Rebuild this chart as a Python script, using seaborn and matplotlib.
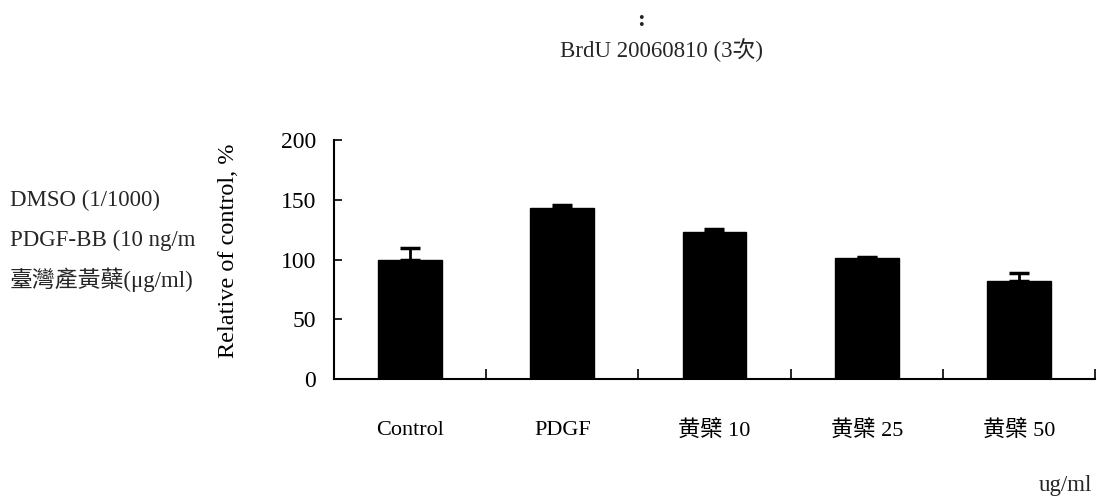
import matplotlib
matplotlib.use("Agg")
import matplotlib.pyplot as plt
import seaborn as sns
import numpy as np
import pandas as pd

# Treatment groups and measured BrdU incorporation (relative to control)
groups = ["Control", "PDGF", "黄檗 10", "黄檗 25", "黄檗 50"]
relative = [100, 143, 123, 101, 82]
sem = [10, 3, 2.5, 1.5, 7]
y_ticks = [0, 50, 100, 150, 200]

treatment_lines = ["DMSO (1/1000)", "PDGF-BB (10 ng/m", "臺灣產黃蘗(μg/ml)"]
title_text = "BrdU 20060810 (3次)"

sns.set_theme(style="white")
fam = ["Liberation Serif", "Noto Sans CJK TC", "DejaVu Sans"]
plt.rcParams["font.family"] = fam

fig = plt.figure(figsize=(10.97, 4.97), dpi=100)
ax = fig.add_axes([334 / 1097, 1 - 379 / 497, (1095 - 334) / 1097, (379 - 140) / 497])

df = pd.DataFrame({"group": groups, "relative": relative})
sns.barplot(data=df, x="group", y="relative", color="black", width=0.42,
            saturation=1, ax=ax, errorbar=None)
for b in ax.patches:
    b.set_edgecolor("black")

# upward-only error bars
xs = np.arange(len(groups))
ax.errorbar(xs, relative, yerr=[np.zeros(len(sem)), sem], fmt="none",
            ecolor="black", elinewidth=2, capsize=7, capthick=2.5)

ax.set_xlim(-0.5, len(groups) - 0.5)
ax.set_ylim(0, 200)
ax.set_yticks(y_ticks)
ax.set_yticklabels([str(v) for v in y_ticks], fontsize=17, family=fam)
ax.set_xticks(xs)
ax.set_xticklabels(groups, fontsize=16, family=fam)
ax.set_xticks(np.arange(len(groups)) + 0.5, minor=True)
ax.tick_params(axis="x", which="both", bottom=True)
ax.tick_params(axis="y", which="major", left=True)
ax.tick_params(axis="x", which="major", length=0, pad=30, colors="black")
ax.tick_params(axis="x", which="minor", direction="in", length=7, width=1.2, color="black")
ax.tick_params(axis="y", which="major", direction="in", length=6, width=1.2, pad=13,
               color="black", labelcolor="black")

for s in ["top", "right"]:
    ax.spines[s].set_visible(False)
for s in ["left", "bottom"]:
    ax.spines[s].set_color("black")
    ax.spines[s].set_linewidth(1.5)

ax.set_xlabel("")
ax.set_ylabel("Relative of control, %", fontsize=17.5, family=fam, color="black")
ax.yaxis.set_label_coords(-0.125, 0.535)

# header and treatment notes
fig.text(641 / 1097, 1 - 20 / 497, ":", ha="center", va="center", fontsize=17,
         fontweight="bold", family=fam)
fig.text(661 / 1097, 1 - 50 / 497, title_text, ha="center", va="center", fontsize=16.5, family=fam)
for i, line in enumerate(treatment_lines):
    fig.text(10 / 1097, 1 - (200 + 40 * i) / 497, line, ha="left", va="center",
             fontsize=16.5, family=fam)
fig.text(1092 / 1097, 1 - 486 / 497, "ug/ml", ha="right", va="center", fontsize=16.5, family=fam)

fig.savefig("out.png", dpi=100)
